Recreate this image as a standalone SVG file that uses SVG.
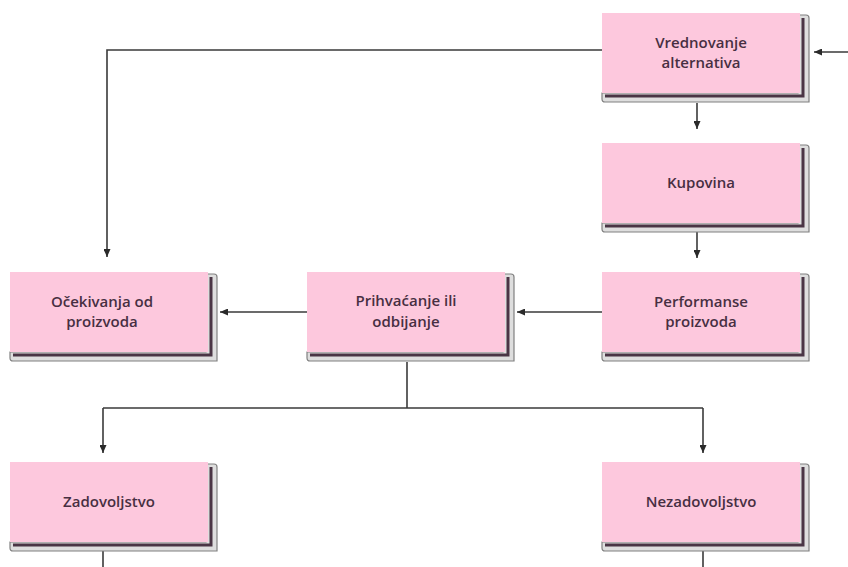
<svg xmlns="http://www.w3.org/2000/svg" xmlns:xlink="http://www.w3.org/1999/xlink" width="848" height="567" viewBox="0 0 848 567">
<style>
.band{fill:#dedede;stroke:#808080;stroke-width:1.2}
.pink{fill:#fdc8dd}
.shadow{fill:none;stroke:#4a3545;stroke-width:3}
.lbl{font-family:"Open Sans","Liberation Sans",sans-serif;font-size:15px;font-weight:600;fill:#472f42;text-anchor:middle}
.con{fill:none;stroke:#3a3a3a;stroke-width:1.6}
.arr{marker-end:url(#ah)}
</style>
<defs>
<marker id="ah" markerUnits="userSpaceOnUse" markerWidth="8" markerHeight="7" refX="8" refY="3.5" orient="auto">
<path d="M0,0 L8,3.5 L0,7 z" fill="#2a2a2a"/>
</marker>
<g id="box">
<path class="band" d="M196,2 H204 Q207,2 207,5 V89 H3 Q0,89 0,86 V80 H196 Z"/>
<rect class="pink" x="0" y="0" width="198" height="80"/>
<path class="shadow" d="M201,5 V83 H3"/>
</g>
</defs>
<rect width="848" height="567" fill="#ffffff"/>
<g id="connectors">
<path class="con arr" d="M848,52 H814"/>
<path class="con arr" d="M612,50 H107 V257"/>
<path class="con arr" d="M697,103 V129"/>
<path class="con arr" d="M697,214 V258"/>
<path class="con arr" d="M602,312 H517"/>
<path class="con arr" d="M307,312 H220"/>
<path class="con" d="M407,362 V408"/>
<path class="con" d="M103,408 H703"/>
<path class="con arr" d="M103,408 V453"/>
<path class="con arr" d="M703,408 V453"/>
<path class="con" d="M103,551 V567"/>
<path class="con" d="M703,544 V567"/>
</g>
<g id="node-vrednovanje" transform="translate(602,13)">
<use xlink:href="#box"/>
<text class="lbl" x="99" y="34.5">Vrednovanje</text>
<text class="lbl" x="99" y="55">alternativa</text>
</g>
<g id="node-kupovina" transform="translate(602,143)">
<use xlink:href="#box"/>
<text class="lbl" x="99" y="45">Kupovina</text>
</g>
<g id="node-performanse" transform="translate(602,272)">
<use xlink:href="#box"/>
<text class="lbl" x="99" y="34.5">Performanse</text>
<text class="lbl" x="99" y="55">proizvoda</text>
</g>
<g id="node-prihvacanje" transform="translate(307,272)">
<use xlink:href="#box"/>
<text class="lbl" x="99" y="34">Prihvaćanje ili</text>
<text class="lbl" x="99" y="54.5">odbijanje</text>
</g>
<g id="node-ocekivanja" transform="translate(10,272)">
<use xlink:href="#box"/>
<text class="lbl" x="92" y="34.5">Očekivanja od</text>
<text class="lbl" x="92" y="55">proizvoda</text>
</g>
<g id="node-zadovoljstvo" transform="translate(10,462)">
<use xlink:href="#box"/>
<text class="lbl" x="99" y="45">Zadovoljstvo</text>
</g>
<g id="node-nezadovoljstvo" transform="translate(602,462)">
<use xlink:href="#box"/>
<text class="lbl" x="99" y="45">Nezadovoljstvo</text>
</g>
</svg>
